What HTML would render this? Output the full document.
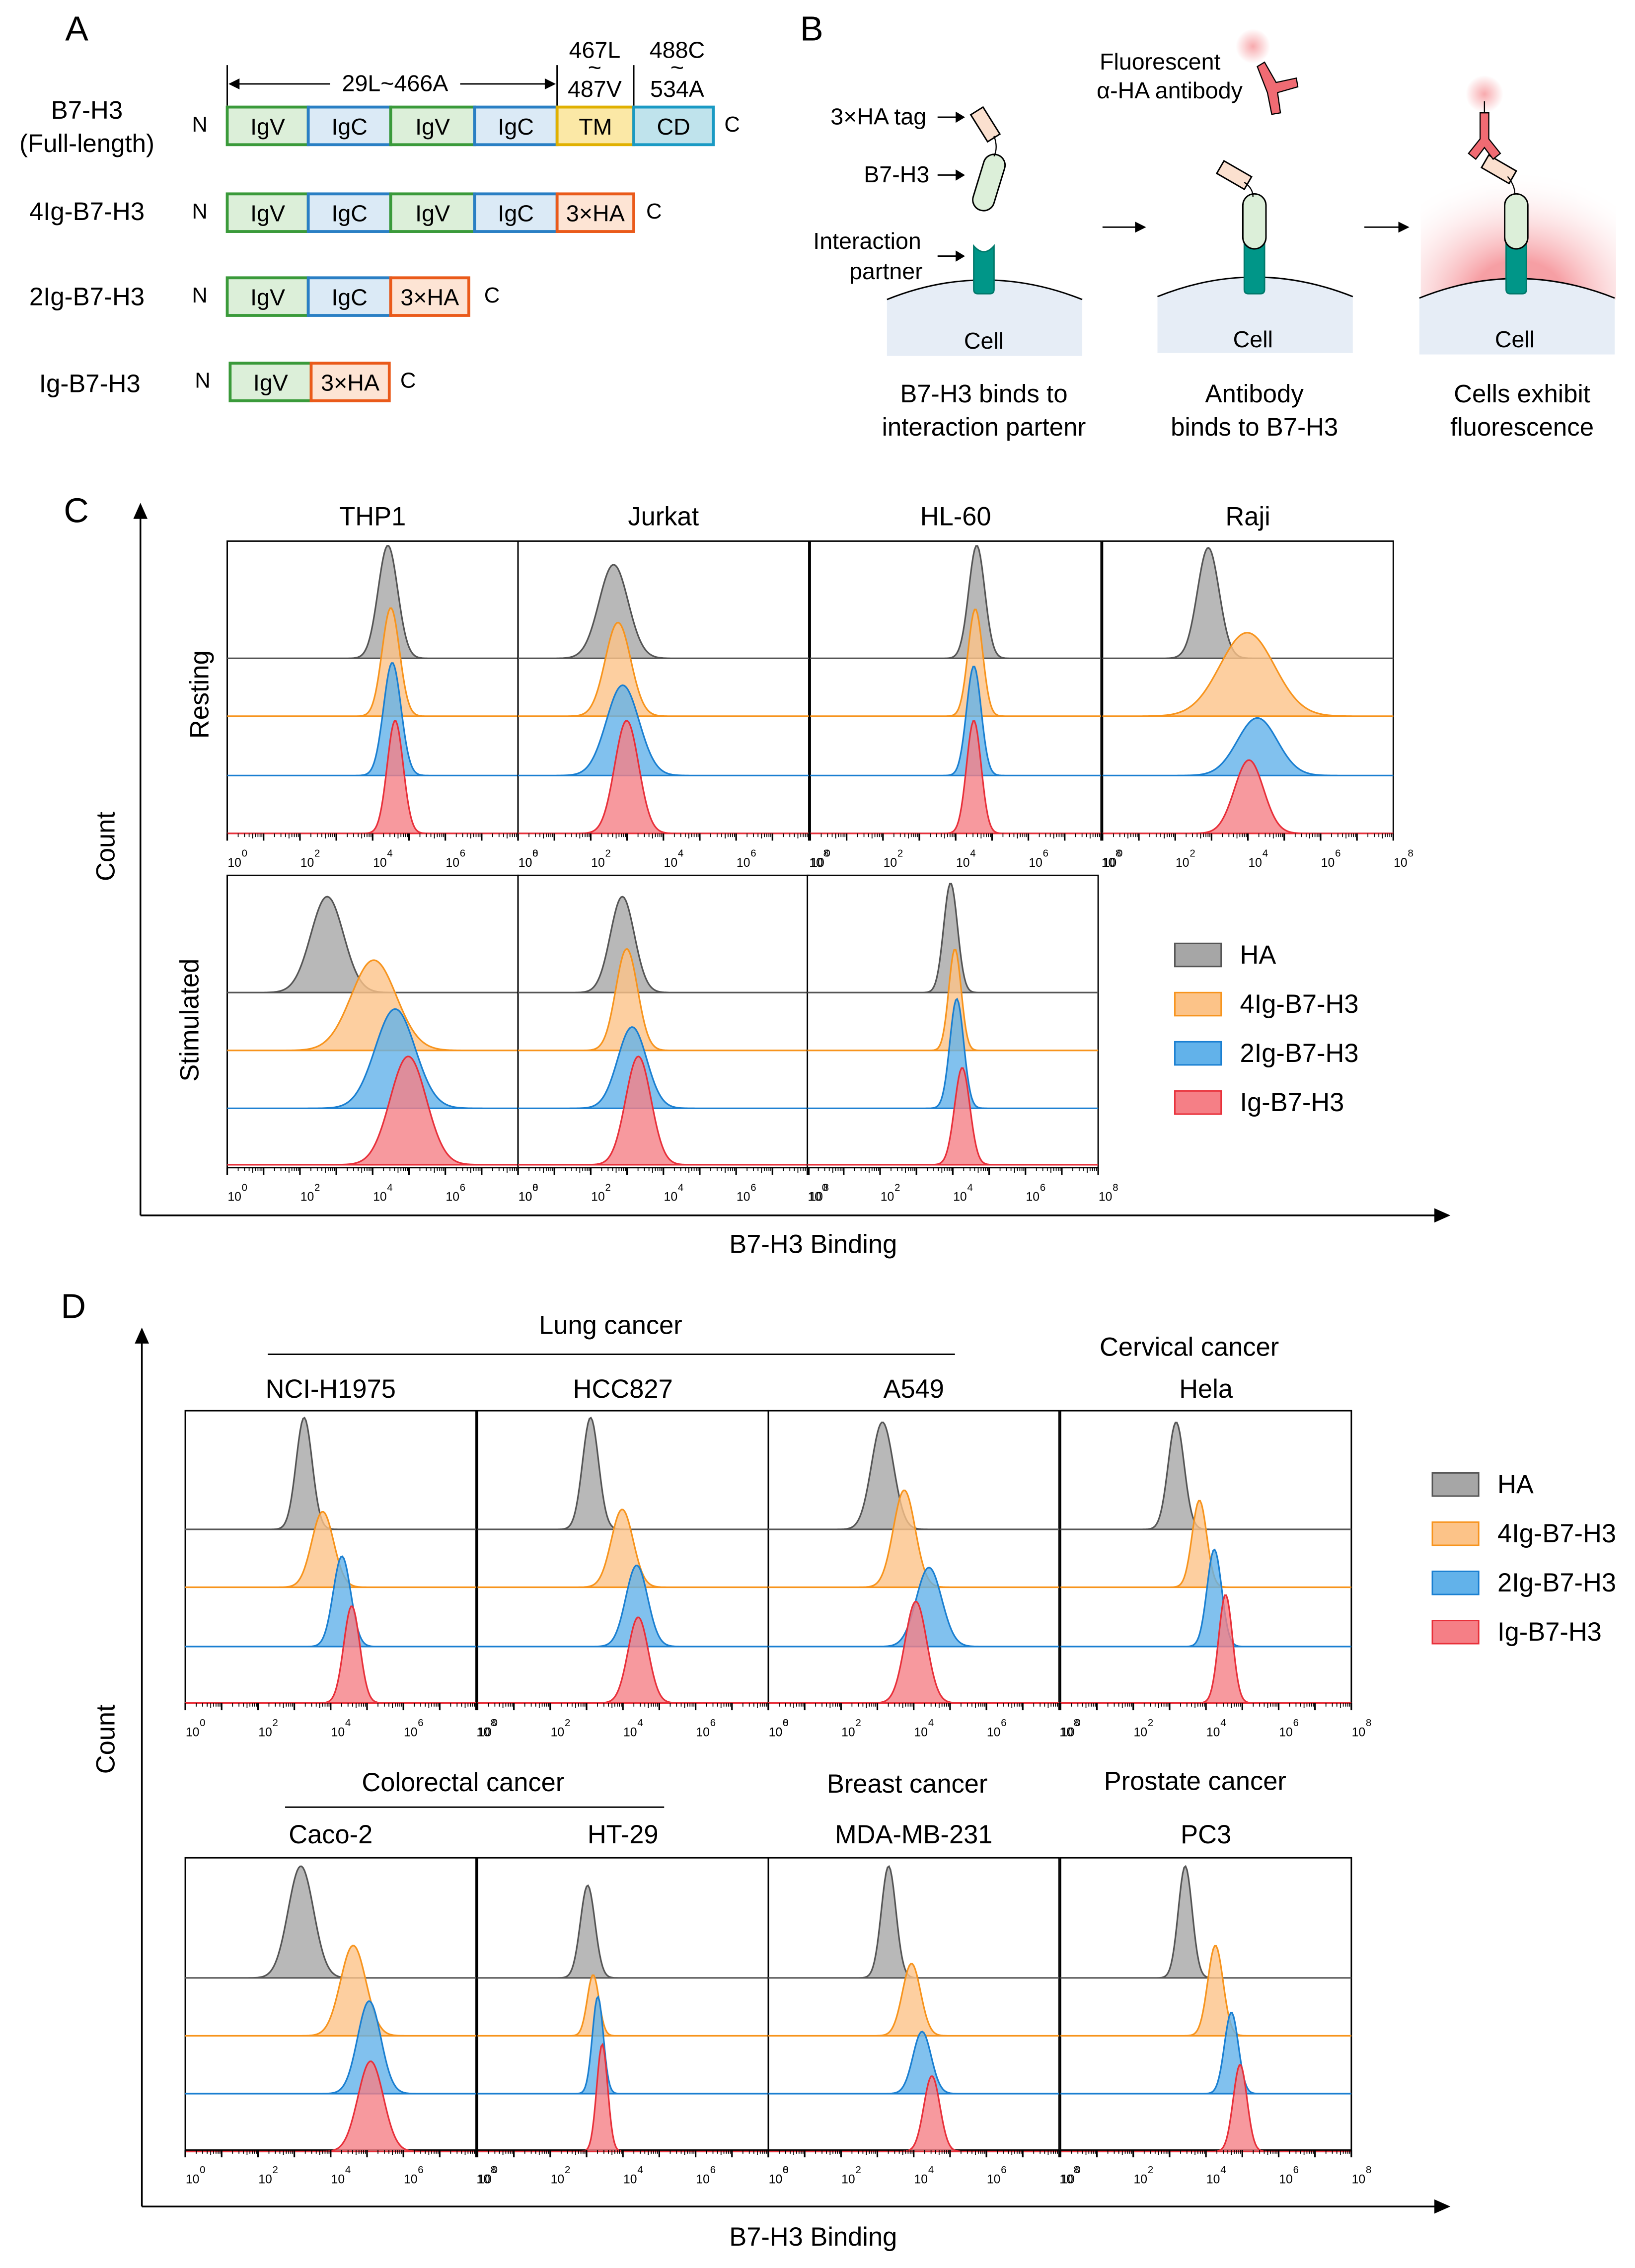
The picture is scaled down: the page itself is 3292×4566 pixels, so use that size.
<!DOCTYPE html>
<html><head><meta charset="utf-8"><style>
html,body{margin:0;padding:0;background:#fff;}
svg{display:block;font-family:"Liberation Sans",sans-serif;}
</style></head><body>
<svg id="fig" width="3292" height="4566" viewBox="0 0 1130 1567.5" xmlns="http://www.w3.org/2000/svg">
<defs>
<radialGradient id="glow"><stop offset="0" stop-color="#f7a0a4" stop-opacity="0.9"/><stop offset="1" stop-color="#f7a0a4" stop-opacity="0"/></radialGradient>
<radialGradient id="cellglow" cx="0.5" cy="1" r="0.8"><stop offset="0.3" stop-color="#f58e94" stop-opacity="0.85"/><stop offset="1" stop-color="#fff" stop-opacity="0"/></radialGradient>
</defs>
<!-- PANEL A -->
<g font-size="16">
<text x="45" y="28" font-size="24">A</text>
<g stroke="#000" stroke-width="1">
<line x1="157" y1="45" x2="157" y2="73"/><line x1="385" y1="45" x2="385" y2="73"/><line x1="438" y1="45" x2="438" y2="73"/>
<line x1="159" y1="58" x2="228" y2="58"/><line x1="318" y1="58" x2="383" y2="58"/>
<path d="M159 58 l6 -3 v6z M383 58 l-6 -3 v6z" fill="#000"/>
</g>
<text x="273" y="63" text-anchor="middle">29L~466A</text>
<text x="411" y="40" text-anchor="middle">467L</text><text x="411" y="52" text-anchor="middle">~</text><text x="411" y="67" text-anchor="middle">487V</text>
<text x="468" y="40" text-anchor="middle">488C</text><text x="468" y="52" text-anchor="middle">~</text><text x="468" y="67" text-anchor="middle">534A</text>
<g font-size="17.5">
<text x="60" y="82" text-anchor="middle">B7-H3</text><text x="60" y="105" text-anchor="middle">(Full-length)</text>
<text x="60" y="152" text-anchor="middle">4Ig-B7-H3</text>
<text x="60" y="211" text-anchor="middle">2Ig-B7-H3</text>
<text x="62" y="271" text-anchor="middle">Ig-B7-H3</text>
</g>
<g id="constructs"></g>
</g>
<!-- PANEL B -->
<g font-size="16">
<text x="553" y="28" font-size="24">B</text>
<rect x="982" y="95" width="135" height="112" fill="url(#cellglow)"/>
<g><path d="M613 207 Q680 180 748 207 V246 H613Z" fill="#e6edf6"/><path d="M613 207 Q680 180 748 207" fill="none" stroke="#000"/><text x="680" y="241" text-anchor="middle">Cell</text></g>
<g><path d="M800 205 Q867 178 935 205 V244 H800Z" fill="#e6edf6"/><path d="M800 205 Q867 178 935 205" fill="none" stroke="#000"/><text x="866" y="240" text-anchor="middle">Cell</text></g>
<g><path d="M981 206 Q1048 179 1116 206 V245 H981Z" fill="#e6edf6"/><path d="M981 206 Q1048 179 1116 206" fill="none" stroke="#000"/><text x="1047" y="240" text-anchor="middle">Cell</text></g>
<g fill="#009688" stroke="#00796b">
<path d="M673 170 q7 8 14 0 v30 q0 3 -3 3 h-8 q-3 0 -3 -3z"/>
<path d="M860 168 q7 8 14 0 v32 q0 3 -3 3 h-8 q-3 0 -3 -3z"/>
<path d="M1041 168 q7 8 14 0 v32 q0 3 -3 3 h-8 q-3 0 -3 -3z"/>
</g>
<g fill="#dcefd9" stroke="#000">
<rect x="676" y="106" width="15" height="40" rx="7.5" transform="rotate(17 683 126)"/>
<rect x="859" y="134" width="16" height="38" rx="8"/>
<rect x="1040" y="134" width="16" height="38" rx="8"/>
</g>
<g fill="#fbe0cf" stroke="#000">
<rect x="676" y="75" width="10" height="22" transform="rotate(-32 681 86)"/>
<rect x="848" y="110" width="10" height="22" transform="rotate(-60 853 121)"/>
<rect x="1031" y="106" width="10" height="22" transform="rotate(-60 1036 117)"/>
</g>
<g fill="none" stroke="#000" stroke-width="0.8"><path d="M687 94 q3 8 0 14"/><path d="M860 126 q6 4 6 10"/><path d="M1042 122 q5 6 5 12"/></g>
<circle cx="866" cy="32" r="12" fill="url(#glow)"/><circle cx="1026" cy="65" r="13" fill="url(#glow)"/>
<g fill="#f06b73" stroke="#000" stroke-width="0.8">
<path d="M869 46 l5 -3 l8 14 l14 -3 l1 6 l-14 4 l2 14 l-6 1 l-3 -15z"/>
<path d="M1023 78 h6 v18 l8 10 l-5 4 l-6 -8 l-6 8 l-5 -4 l8 -10z"/>
</g>
<line x1="1026" y1="70" x2="1026" y2="78" stroke="#000" stroke-width="0.8"/>
<text x="760" y="48">Fluorescent</text><text x="758" y="68">α-HA antibody</text>
<text x="574" y="86">3×HA tag</text><text x="597" y="126">B7-H3</text>
<text x="562" y="172">Interaction</text><text x="587" y="193">partner</text>
<g stroke="#000" fill="#000">
<line x1="648" y1="81" x2="662" y2="81"/><path d="M666 81 l-5 -3 v6z"/>
<line x1="648" y1="121" x2="662" y2="121"/><path d="M666 121 l-5 -3 v6z"/>
<line x1="648" y1="177" x2="662" y2="177"/><path d="M666 177 l-5 -3 v6z"/>
<line x1="762" y1="157" x2="786" y2="157"/><path d="M791 157 l-6 -3 v6z"/>
<line x1="943" y1="157" x2="968" y2="157"/><path d="M973 157 l-6 -3 v6z"/>
</g>
<g font-size="17.5" text-anchor="middle">
<text x="680" y="278">B7-H3 binds to</text><text x="680" y="301">interaction partenr</text>
<text x="867" y="278">Antibody</text><text x="867" y="301">binds to B7-H3</text>
<text x="1052" y="278">Cells exhibit</text><text x="1052" y="301">fluorescence</text>
</g>
</g>
<!-- PANEL C / D axes -->
<g font-size="18">
<text x="44" y="361" font-size="24">C</text>
<text x="42" y="911" font-size="24">D</text>
<g stroke="#000" stroke-width="1.2" fill="#000">
<line x1="97" y1="840" x2="97" y2="356"/><path d="M97 349 l-4 9 h8z"/>
<line x1="97" y1="840" x2="993" y2="840"/><path d="M1001 840 l-9 -4 v8z"/>
<line x1="98" y1="1525" x2="98" y2="926"/><path d="M98 919 l-4 9 h8z"/>
<line x1="98" y1="1525" x2="993" y2="1525"/><path d="M1001 1525 l-9 -4 v8z"/>
</g>
<text transform="translate(79,585) rotate(-90)" text-anchor="middle">Count</text>
<text x="562" y="866" text-anchor="middle">B7-H3 Binding</text>
<text transform="translate(79,1202) rotate(-90)" text-anchor="middle">Count</text>
<text x="562" y="1552" text-anchor="middle">B7-H3 Binding</text>
<text transform="translate(144,480) rotate(-90)" text-anchor="middle">Resting</text>
<text transform="translate(137,705) rotate(-90)" text-anchor="middle">Stimulated</text>
<text x="422" y="922" text-anchor="middle">Lung cancer</text><line x1="185" y1="936" x2="660" y2="936" stroke="#000"/>
<text x="822" y="937" text-anchor="middle">Cervical cancer</text>
<text x="320" y="1238" text-anchor="middle">Colorectal cancer</text><line x1="197" y1="1249" x2="459" y2="1249" stroke="#000"/>
<text x="627" y="1239" text-anchor="middle">Breast cancer</text>
<text x="826" y="1237" text-anchor="middle">Prostate cancer</text>
</g>
<g id="charts"></g>
</svg>
<script>
// ---------- chart data ----------
const seriesNames = ['HA','4Ig-B7-H3','2Ig-B7-H3','Ig-B7-H3'];
const seriesFill = ['#a6a6a6','#fcc388','#62b2ea','#f57f86'];
const seriesStroke = ['#555555','#f7941d','#1a7fd1','#e8303a'];
const tickDecades = [0,2,4,6,8];

const restingCells = ['THP1','Jurkat','HL-60','Raji'];
const restingPeak = [[4.42,4.50,4.54,4.62],[2.63,2.75,2.88,2.99],[4.58,4.54,4.50,4.50],[2.91,3.98,4.26,4.03]];
const restingSd = [[0.27,0.24,0.24,0.22],[0.40,0.35,0.45,0.33],[0.22,0.20,0.20,0.20],[0.30,0.75,0.55,0.40]];
const restingHeight = [[1,0.96,1,1],[0.83,0.83,0.80,1],[1,0.95,0.97,1],[0.98,0.74,0.51,0.65]];

const stimCells = ['THP1','Jurkat','HL-60'];
const stimPeak = [[2.75,4.03,4.62,4.98],[2.87,2.99,3.14,3.31],[3.94,4.06,4.11,4.26]];
const stimSd = [[0.45,0.62,0.55,0.50],[0.33,0.30,0.40,0.35],[0.19,0.17,0.19,0.21]];
const stimHeight = [[0.85,0.80,0.88,0.96],[0.85,0.90,0.72,0.96],[0.97,0.90,0.97,0.86]];

const cancerTopCells = ['NCI-H1975','HCC827','A549','Hela'];
const cancerTopPeak = [[3.27,3.78,4.31,4.58],[3.11,3.98,4.38,4.42],[3.14,3.74,4.42,4.06],[3.18,3.82,4.23,4.54]];
const cancerTopSd = [[0.22,0.30,0.24,0.22],[0.22,0.30,0.30,0.28],[0.30,0.30,0.35,0.30],[0.22,0.20,0.20,0.19]];
const cancerTopHeight = [[0.99,0.67,0.80,0.86],[0.99,0.69,0.72,0.76],[0.95,0.86,0.70,0.90],[0.95,0.77,0.86,0.96]];

const cancerBotCells = ['Caco-2','HT-29','MDA-MB-231','PC3'];
const cancerBotPeak = [[3.18,4.62,5.06,5.10],[3.03,3.18,3.31,3.43],[3.31,3.94,4.23,4.50],[3.43,4.26,4.70,4.94]];
const cancerBotSd = [[0.35,0.35,0.32,0.35],[0.20,0.16,0.15,0.15],[0.20,0.25,0.25,0.22],[0.19,0.21,0.19,0.19]];
const cancerBotHeight = [[0.99,0.80,0.82,0.80],[0.82,0.54,0.86,0.95],[0.99,0.64,0.55,0.67],[0.99,0.80,0.72,0.77]];

// ---------- drawing ----------
const NS='http://www.w3.org/2000/svg';
function mk(tag,attrs,parent){const e=document.createElementNS(NS,tag);for(const k in attrs)e.setAttribute(k,attrs[k]);parent.appendChild(e);return e;}
const root=document.getElementById('charts');
const LANE_H=78, PW=201, PH=202, DMIN=0, DMAX=8;

function panel(name,x0,top,bases,peaks,sds,heights,titleY){
  const g=mk('g',{},root);
  
  
  const xs=d=>x0+(d-DMIN)/(DMAX-DMIN)*PW;
  const t=mk('text',{x:x0+PW/2,y:titleY,'text-anchor':'middle','font-size':18},g);t.textContent=name;
  
  
  mk('rect',{x:x0,y:top,width:PW,height:PH,fill:'#fff',stroke:'#000','stroke-width':1},g);
  for(let s=0;s<4;s++){
    const b=bases[s];
    mk('line',{x1:x0,y1:b,x2:x0+PW,y2:b,stroke:s==0?'#888':seriesStroke[s],'stroke-width':0.8},g);
  }
  for(let s=0;s<4;s++){
    const b=bases[s], mu=peaks[s], sd=sds[s], h=heights[s]*LANE_H;
    let pts=[];
    for(let i=0;i<=200;i++){const d=DMIN+(DMAX-DMIN)*i/200;const y=b-h*Math.exp(-0.5*((d-mu)/sd)**2);pts.push(xs(d).toFixed(2)+','+y.toFixed(2));}
    const p=mk('polygon',{points:xs(DMIN)+','+b+' '+pts.join(' ')+' '+xs(DMAX)+','+b,fill:seriesFill[s],'fill-opacity':0.8,stroke:seriesStroke[s],'stroke-width':1.1},g);
    
    
  }
  const bot=top+PH;
  for(let d=DMIN;d<DMAX;d++){
    for(let m=1;m<10;m++){const x=xs(d+Math.log10(m));mk('line',{x1:x,y1:bot,x2:x,y2:bot+(m==1?5:(m==5?3.5:2.5)),stroke:'#000','stroke-width':m==1?1.1:0.6},g);}
  }
  mk('line',{x1:xs(DMAX),y1:bot,x2:xs(DMAX),y2:bot+5,stroke:'#000','stroke-width':1.1},g);
  tickDecades.forEach(k=>{
    const tx=mk('text',{x:xs(k)+5,y:bot+23,'font-size':8.5,'text-anchor':'middle'},g);tx.textContent='10';
    
    
    const sp=mk('text',{x:xs(k)+10,y:bot+16,'font-size':7},g);sp.textContent=String(k);
  });
}
[157,358,560,762].forEach((x,i)=>panel(restingCells[i],x,374,[455,495,536,576],restingPeak[i],restingSd[i],restingHeight[i],363));
[157,358,558].forEach((x,i)=>panel(stimCells[i],x,605,[686,726,766,805],stimPeak[i],stimSd[i],stimHeight[i],-50));
[128,330,531,733].forEach((x,i)=>panel(cancerTopCells[i],x,975,[1057,1097,1138,1177],cancerTopPeak[i],cancerTopSd[i],cancerTopHeight[i],966));
[128,330,531,733].forEach((x,i)=>panel(cancerBotCells[i],x,1284,[1367,1407,1447,1487],cancerBotPeak[i],cancerBotSd[i],cancerBotHeight[i],1274));

function legend(x,y0){
  const g=mk('g',{},root);
  
  
  for(let s=0;s<4;s++){
    const y=y0+s*34;
    const r=mk('rect',{x:x,y:y-8,width:32,height:16,fill:seriesFill[s],stroke:seriesStroke[s],'stroke-width':1},g);
    
    
    const t=mk('text',{x:x+45,y:y+6,'font-size':18},g);t.textContent=seriesNames[s];
    
    
  }
}
legend(812,660);
legend(990,1026);

// constructs (panel A)
const cg=document.getElementById('constructs');
const segFill={IgV:['#dcefd9','#3a9a3a'],IgC:['#dbeaf6','#2a7fc4'],TM:['#fbe8a6','#e0b000'],CD:['#bfe3ec','#1a9ac4'],'3×HA':['#fde4d4','#ea5a1a']};
const rows=[
 {y:74,segs:[['IgV',157,213],['IgC',213,270],['IgV',270,328],['IgC',328,385],['TM',385,438],['CD',438,493]],n:138,c:506},
 {y:134,segs:[['IgV',157,213],['IgC',213,270],['IgV',270,328],['IgC',328,385],['3×HA',385,438]],n:138,c:452},
 {y:192,segs:[['IgV',157,213],['IgC',213,270],['3×HA',270,324]],n:138,c:340},
 {y:251,segs:[['IgV',159,215],['3×HA',215,269]],n:140,c:282}];
rows.forEach(r=>{
  r.segs.forEach(s=>{
    const e=mk('rect',{x:s[1],y:r.y,width:s[2]-s[1],height:26,fill:segFill[s[0]][0],stroke:segFill[s[0]][1],'stroke-width':2},cg);
    
    
    const t=mk('text',{x:(s[1]+s[2])/2,y:r.y+19,'text-anchor':'middle','font-size':16},cg);t.textContent=s[0];
  });
  const n=mk('text',{x:r.n,y:r.y+17,'text-anchor':'middle','font-size':15},cg);n.textContent='N';
  const c=mk('text',{x:r.c,y:r.y+17,'text-anchor':'middle','font-size':15},cg);c.textContent='C';
});
</script>
</body></html>
